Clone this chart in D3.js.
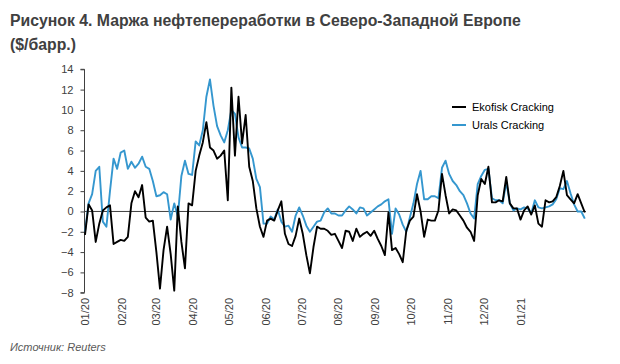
<!DOCTYPE html>
<html><head><meta charset="utf-8">
<script src="https://cdn.jsdelivr.net/npm/d3@7"></script>
<style>
body{margin:0;background:#fff}
svg{display:block}
text{font-family:"Liberation Sans",Arial,sans-serif}
</style>
</head><body>
<svg id="c" width="620" height="364"></svg>
<script>
const titleLines = ["Рисунок 4. Маржа нефтепереработки в Северо-Западной Европе", "($/барр.)"];
const sourceText = "Источник: Reuters";
const seriesNames = ["Ekofisk Cracking", "Urals Cracking"];

const dates = [
"2020-01-01","2020-01-04","2020-01-07","2020-01-10","2020-01-13","2020-01-16","2020-01-19","2020-01-22","2020-01-25","2020-01-28","2020-01-31",
"2020-02-03","2020-02-06","2020-02-09","2020-02-12","2020-02-15","2020-02-18","2020-02-21","2020-02-24","2020-02-27",
"2020-03-01","2020-03-04","2020-03-07","2020-03-10","2020-03-13","2020-03-16","2020-03-19","2020-03-22","2020-03-25","2020-03-28","2020-03-31",
"2020-04-03","2020-04-06","2020-04-09","2020-04-12","2020-04-15","2020-04-18","2020-04-21","2020-04-24","2020-04-27","2020-04-30",
"2020-05-03","2020-05-06","2020-05-09","2020-05-12","2020-05-15","2020-05-18","2020-05-21","2020-05-24","2020-05-27","2020-05-30",
"2020-06-02","2020-06-05","2020-06-08","2020-06-11","2020-06-14","2020-06-17","2020-06-20","2020-06-23","2020-06-26","2020-06-29",
"2020-07-02","2020-07-05","2020-07-08","2020-07-11","2020-07-14","2020-07-17","2020-07-20","2020-07-23","2020-07-26","2020-07-29",
"2020-08-01","2020-08-04","2020-08-07","2020-08-10","2020-08-13","2020-08-16","2020-08-19","2020-08-22","2020-08-25","2020-08-28","2020-08-31",
"2020-09-03","2020-09-06","2020-09-09","2020-09-12","2020-09-15","2020-09-18","2020-09-21","2020-09-24","2020-09-27","2020-09-30",
"2020-10-03","2020-10-06","2020-10-09","2020-10-12","2020-10-15","2020-10-18","2020-10-21","2020-10-24","2020-10-27","2020-10-30",
"2020-11-02","2020-11-05","2020-11-08","2020-11-11","2020-11-14","2020-11-17","2020-11-20","2020-11-23","2020-11-26","2020-11-29",
"2020-12-02","2020-12-05","2020-12-08","2020-12-11","2020-12-14","2020-12-17","2020-12-20","2020-12-23","2020-12-26","2020-12-29",
"2021-01-01","2021-01-04","2021-01-07","2021-01-10","2021-01-13","2021-01-16","2021-01-19","2021-01-22","2021-01-25","2021-01-28","2021-01-31",
"2021-02-03","2021-02-06","2021-02-09","2021-02-12","2021-02-15","2021-02-18","2021-02-21","2021-02-24"
];

const ekofisk = [
-2.3,0.7,0.1,-3.0,-1.2,0.1,0.4,0.6,-3.2,-3.0,-2.8,
-2.9,-2.5,0.8,2.0,1.4,2.6,-0.6,-1.0,-0.9,
-4.0,-7.6,-3.8,-1.5,-4.2,-7.8,0.5,-3.0,-5.6,0.8,0.6,
4.0,5.5,6.8,8.8,6.3,6.0,5.2,5.5,6.0,1.1,
12.2,5.5,11.3,6.7,9.5,4.4,3.0,0.3,-1.5,-2.5,
-0.9,-0.7,-0.9,0.1,1.0,-2.2,-3.2,-3.4,-2.4,-0.7,
-2.2,-4.3,-6.1,-3.5,-1.5,-1.7,-1.7,-1.9,-2.3,-2.2,
-2.9,-3.6,-1.9,-2.0,-2.9,-1.7,-2.5,-2.2,-2.0,-2.4,-1.9,
-2.7,-3.4,-4.3,-0.1,-3.8,-3.6,-4.2,-5.0,-1.9,-0.9,
-0.5,1.7,0.0,-2.5,-0.8,-0.9,-0.9,0.1,3.7,1.6,
-0.2,0.2,0.1,-0.4,-0.9,-1.6,-2.0,-2.9,1.6,3.2,
2.7,4.4,0.9,0.9,1.1,1.0,3.4,0.8,0.3,0.3,
-0.8,0.1,0.5,-0.3,0.6,-1.2,-1.5,1.1,0.9,1.0,1.4,
2.5,4.0,1.6,1.2,0.8,1.7,0.8,-0.1
];

const urals = [
-2.0,0.8,1.7,4.0,4.4,-1.0,-1.5,2.0,5.2,4.2,5.8,
6.0,4.2,4.9,4.3,4.7,5.4,4.4,4.2,3.0,
1.5,1.6,1.9,1.7,-0.8,0.8,-0.5,3.5,5.0,3.7,3.6,
6.9,6.5,8.0,11.3,13.0,10.4,8.4,7.5,6.8,8.0,
10.0,9.6,7.3,6.3,6.3,6.2,5.2,3.2,2.4,-1.2,
-1.2,-0.5,-0.8,0.2,-1.0,-1.5,-1.4,-2.0,-0.4,0.4,
-0.4,-1.4,-2.0,-1.5,-1.0,-0.9,-0.1,0.3,-0.2,-0.2,
-0.4,-0.4,0.1,0.5,0.2,-0.2,0.4,0.3,-0.4,-0.1,0.2,
0.5,0.7,1.0,1.2,-2.2,0.3,-0.3,-1.3,-2.0,-0.6,
0.8,2.7,4.0,1.2,1.2,1.5,1.5,1.3,4.3,5.0,
3.7,3.0,2.6,2.0,1.6,0.8,-0.2,-0.7,2.7,3.5,
4.1,4.2,1.3,1.1,1.1,0.8,2.9,0.8,0.1,0.3,
0.2,0.4,0.3,-0.2,1.1,0.4,0.3,0.4,0.5,0.7,1.2,
2.3,2.2,3.0,1.8,0.7,0.0,0.0,-0.7
];

const yTicks = [-8,-6,-4,-2,0,2,4,6,8,10,12,14];
const xTickDates = ["2020-01-01","2020-02-01","2020-03-01","2020-04-01","2020-05-01","2020-06-01","2020-07-01","2020-08-01","2020-09-01","2020-10-01","2020-11-01","2020-12-01","2021-01-01"];
const xTickLabels = ["01/20","02/20","03/20","04/20","05/20","06/20","07/20","08/20","09/20","10/20","11/20","12/20","01/21"];
const xDomain = ["2020-01-01","2021-03-01"];

const parse = d3.utcParse("%Y-%m-%d");
const svg = d3.select("#c");
const textColor = "#404040";
const colors = ["#000000", "#3597cf"];

const x = d3.scaleUtc().domain(xDomain.map(parse)).range([85, 590.75]);
const y = d3.scaleLinear().domain([-8, 14]).range([292.7, 69.3]);

// title
svg.append("g").selectAll("text").data(titleLines).join("text")
  .attr("x", 10).attr("y", (d, i) => 26 + i * 24)
  .attr("font-size", 15.8).attr("font-weight", "bold").attr("fill", textColor)
  .text(d => d);

// y axis
const yAxis = svg.append("g").attr("transform", "translate(84.5,0)")
  .call(d3.axisLeft(y).tickValues(yTicks).tickSize(4).tickPadding(7).tickFormat(d3.format("d")));
yAxis.select(".domain").attr("stroke", textColor).attr("d", `M-4,${y(-8)}H0V${y(14)}H-4`);
yAxis.selectAll(".tick line").attr("stroke", textColor);
yAxis.selectAll(".tick text").attr("fill", textColor).attr("font-size", 11)
  .attr("font-family", '"Liberation Sans",Arial,sans-serif');

// zero line
svg.append("line").attr("x1", 84.5).attr("x2", 586)
  .attr("y1", y(0)).attr("y2", y(0)).attr("stroke", textColor).attr("stroke-width", 1);

// x labels
svg.append("g").selectAll("text").data(xTickDates).join("text")
  .attr("transform", d => `translate(${x(parse(d)) + 4},298) rotate(-90)`)
  .attr("text-anchor", "end").attr("font-size", 11).attr("fill", textColor)
  .text((d, i) => xTickLabels[i]);

// lines
const series = [
  { name: seriesNames[1], values: urals, color: colors[1] },
  { name: seriesNames[0], values: ekofisk, color: colors[0] }
];
const line = d3.line().x((d, i) => x(parse(dates[i]))).y(d => y(d));
svg.append("g").selectAll("path").data(series).join("path")
  .attr("d", s => line(s.values)).attr("fill", "none")
  .attr("stroke", s => s.color).attr("stroke-width", 1.9).attr("stroke-linejoin", "round");

// legend
const leg = svg.append("g").selectAll("g").data(seriesNames).join("g")
  .attr("transform", (d, i) => `translate(452,${107 + i * 18})`);
leg.append("line").attr("x1", 0).attr("x2", 14).attr("stroke", (d, i) => colors[i]).attr("stroke-width", 2);
leg.append("text").attr("x", 20).attr("y", 4).attr("font-size", 11).attr("fill", "#000").text(d => d);

// source
svg.append("text").attr("x", 10).attr("y", 351).attr("font-size", 11)
  .attr("font-style", "italic").attr("fill", "#595959").text(sourceText);
</script>
</body></html>
